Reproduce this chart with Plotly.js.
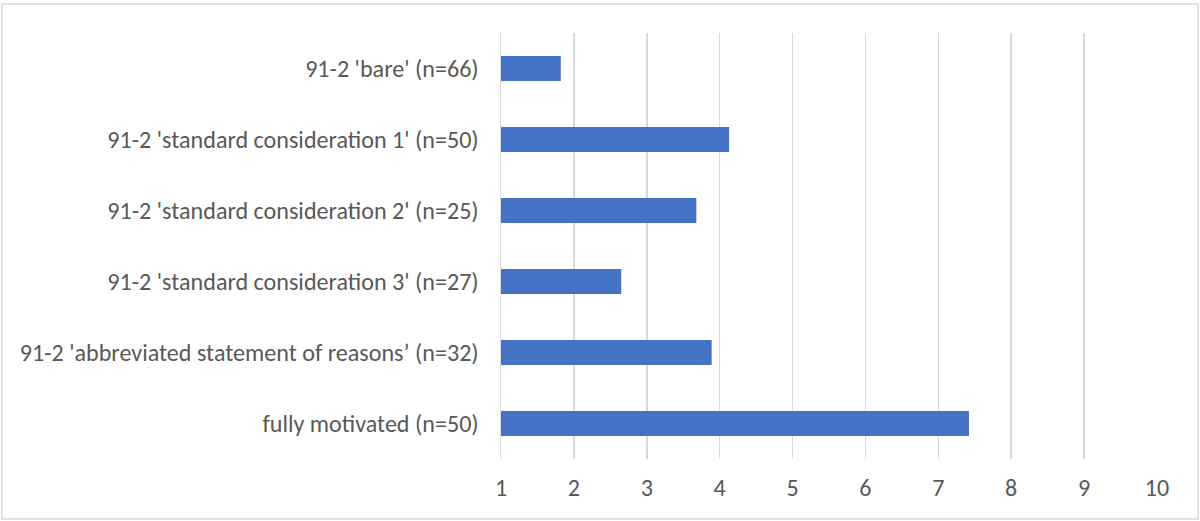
<!DOCTYPE html>
<html>
<head>
<meta charset="utf-8">
<script src="https://cdn.plot.ly/plotly-3.0.1.min.js"></script>
<style>html,body{margin:0;padding:0;background:#fff;}#chart{width:1200px;height:521px;}</style>
</head>
<body>
<div id="chart"></div>
<script>
const categories = [
  "91-2 'bare' (n=66)",
  "91-2 'standard consideration 1' (n=50)",
  "91-2 'standard consideration 2' (n=25)",
  "91-2 'standard consideration 3' (n=27)",
  "91-2 'abbreviated statement of reasons’ (n=32)",
  "fully motivated (n=50)"
];
const values = [1.82, 4.13, 3.68, 2.65, 3.89, 7.42];
const xTicks = [1, 2, 3, 4, 5, 6, 7, 8, 9, 10];

const fontFam = "Carlito, 'Noto Sans', sans-serif";
const trace = {
  type: 'bar',
  orientation: 'h',
  y: categories,
  x: values,
  marker: {color: '#4472C4'},
  hoverinfo: 'x+y'
};
const layout = {
  width: 1200, height: 521,
  margin: {l: 501, r: 43, t: 33, b: 62},
  paper_bgcolor: '#ffffff',
  plot_bgcolor: '#ffffff',
  showlegend: false,
  bargap: 0.65,
  font: {family: fontFam, color: '#595959', size: 24.1},
  xaxis: {
    range: [1, 10],
    tickvals: xTicks,
    ticktext: xTicks.map(String),
    showgrid: true, gridcolor: '#D9D9D9', gridwidth: 1.5,
    zeroline: false, showline: false, ticks: '',
    ticklabelstandoff: 12,
    tickfont: {family: fontFam, size: 24.1, color: '#595959'}
  },
  yaxis: {
    type: 'category',
    autorange: 'reversed',
    showgrid: false, zeroline: false,
    showline: true, linecolor: '#D9D9D9', linewidth: 1.5,
    ticks: '',
    ticklabelstandoff: 16,
    tickfont: {family: fontFam, size: 24.1, color: '#595959'}
  },
  shapes: [{
    type: 'rect', xref: 'paper', yref: 'paper',
    x0: -0.7607, x1: 1.0625, y0: -0.1408, y1: 1.068,
    line: {color: '#D9D9D9', width: 1.5}, fillcolor: 'rgba(0,0,0,0)', layer: 'below'
  }]
};
Plotly.newPlot('chart', [trace], layout, {displayModeBar: false, staticPlot: true});
</script>
</body>
</html>
